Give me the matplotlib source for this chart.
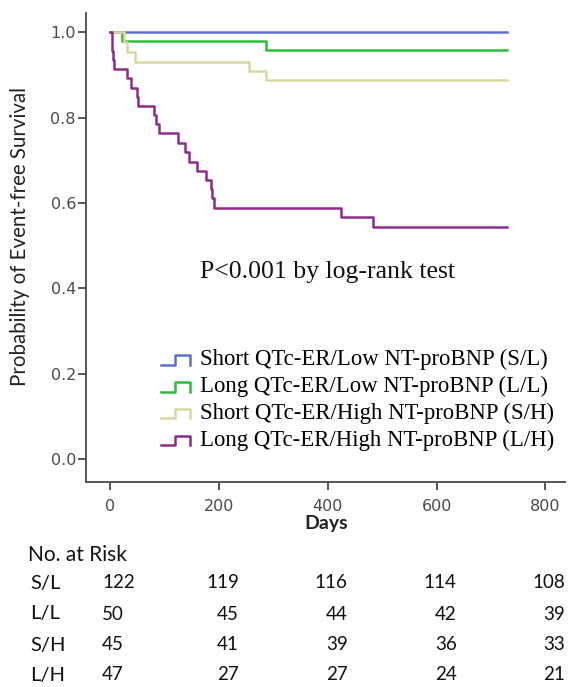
"""Kaplan-Meier style event-free survival by QTc-ER / NT-proBNP group, with number-at-risk table."""

import matplotlib

matplotlib.use("Agg")
import matplotlib.pyplot as plt
from matplotlib.legend_handler import HandlerBase
from matplotlib.lines import Line2D
from matplotlib.transforms import blended_transform_factory, offset_copy

# step curves: event times (days) and survival after each drop
sl_days = [0, 730]
sl_surv = [1.0, 1.0]

ll_days = [0, 22, 287, 730]
ll_surv = [1.0, 0.980, 0.958, 0.958]

sh_days = [0, 26, 32, 46, 256, 287, 730]
sh_surv = [1.0, 0.978, 0.954, 0.931, 0.910, 0.888, 0.888]

lh_days = [0, 3, 5, 7, 32, 39, 49, 51, 81, 84, 90, 124, 138, 145, 160, 176,
           186, 188, 191, 425, 484, 730]
lh_surv = [1.0, 0.957, 0.936, 0.913, 0.892, 0.870, 0.849, 0.827, 0.805, 0.785,
           0.763, 0.741, 0.719, 0.697, 0.675, 0.654, 0.632, 0.611, 0.588, 0.566,
           0.544, 0.544]

group_labels = [
    "Short QTc-ER/Low NT-proBNP (S/L)",
    "Long QTc-ER/Low NT-proBNP (L/L)",
    "Short QTc-ER/High NT-proBNP (S/H)",
    "Long QTc-ER/High NT-proBNP (L/H)",
]
group_short = ["S/L", "L/L", "S/H", "L/H"]
group_colors = ["#5a72c6", "#2dbd3d", "#dbd69e", "#8c2d8c"]

risk_days = [0, 200, 400, 600, 800]
risk_sl = [122, 119, 116, 114, 108]
risk_ll = [50, 45, 44, 42, 39]
risk_sh = [45, 41, 39, 36, 33]
risk_lh = [47, 27, 27, 24, 21]

x_ticks = [0, 200, 400, 600, 800]
y_ticks = [0.0, 0.2, 0.4, 0.6, 0.8, 1.0]

W, H = 569, 687
SPINE = "#555555"


class StepHandler(HandlerBase):
    """Legend key drawn as a small up/down step, like SPSS survival plots."""

    def create_artists(self, legend, orig_handle, xdescent, ydescent,
                       width, height, fontsize, trans):
        x0, y0 = -xdescent, -ydescent
        lo, hi = y0 + 0.05 * height, y0 + 0.65 * height
        xm = x0 + 0.48 * width
        line = Line2D([x0, xm, xm, x0 + width, x0 + width], [lo, lo, hi, hi, lo],
                      color=orig_handle.get_color(), linewidth=orig_handle.get_linewidth(),
                      transform=trans)
        return [line]


fig = plt.figure(figsize=(W / 100, H / 100), dpi=100)
left, right, top, bottom = 86.3, 565, 13, 482
ax = fig.add_axes([left / W, 1 - bottom / H, (right - left) / W, (bottom - top) / H])

curves = [(sl_days, sl_surv), (ll_days, ll_surv), (sh_days, sh_surv), (lh_days, lh_surv)]
handles = []
for (days, surv), color, label in zip(curves, group_colors, group_labels):
    (ln,) = ax.step(days, surv, where="post", color=color, linewidth=1.8, label=label)
    handles.append(ln)

ax.set_xlim(-43.6, 836)
ax.set_ylim(-0.054, 1.045)
ax.set_xticks(x_ticks)
ax.set_yticks(y_ticks)
ax.set_yticklabels([f"{v:.1f}" for v in y_ticks])
for side in ["top", "right"]:
    ax.spines[side].set_visible(False)
for side in ["left", "bottom"]:
    ax.spines[side].set_color(SPINE)
    ax.spines[side].set_linewidth(1.4)
ax.tick_params(direction="out", length=6, width=1.4, color=SPINE, labelcolor="#4a4a4a",
               labelsize=11.5)
ax.tick_params(axis="y", pad=1.5)
ax.tick_params(axis="x", pad=6)
for lab in ax.get_xticklabels() + ax.get_yticklabels():
    lab.set_family("DejaVu Sans")

ax.legend(handles=handles, loc="upper left", bbox_to_anchor=(0.156, 0.283),
          frameon=False, borderaxespad=0, borderpad=0,
          prop={"family": "Liberation Serif", "size": 16.4},
          handler_map={Line2D: StepHandler()},
          handlelength=1.28, handleheight=0.7, handletextpad=0.45, labelspacing=0.25)

fig.text(328 / W, 1 - 272 / H, "P<0.001 by log-rank test", ha="center", va="center",
         family="Liberation Serif", fontsize=18.5, color="#111111")

fig.text(20 / W, 1 - 237 / H, "Probability of Event-free Survival", rotation=90,
         ha="center", va="center", family="Lato", fontsize=14.8, color="#222222")
fig.text(326 / W, 1 - 523 / H, "Days", ha="center", va="center", family="Lato",
         fontweight="bold", fontsize=14, color="#222222")

# number-at-risk table under the axis, columns tied to the day scale
fig.text(28 / W, 1 - 555 / H, "No. at Risk", ha="left", va="center", family="Lato",
         fontsize=15, color="#111111")
row_y = [583, 614, 645, 675]
blend = blended_transform_factory(ax.transData, fig.transFigure)
first_col = offset_copy(blend, fig=fig, x=-8, y=0, units="dots")
other_col = offset_copy(blend, fig=fig, x=20, y=0, units="dots")
for name, counts, yy in zip(group_short, [risk_sl, risk_ll, risk_sh, risk_lh], row_y):
    fig.text(30 / W, 1 - yy / H, name, ha="left", va="center", family="Lato",
             fontsize=14.5, color="#111111")
    for i, (day, n) in enumerate(zip(risk_days, counts)):
        ax.text(day, 1 - yy / H, str(n), ha="left" if i == 0 else "right", va="center",
                transform=first_col if i == 0 else other_col, family="Lato",
                fontsize=13.5, color="#111111", clip_on=False)

fig.savefig("out.png", dpi=100, facecolor="white")
